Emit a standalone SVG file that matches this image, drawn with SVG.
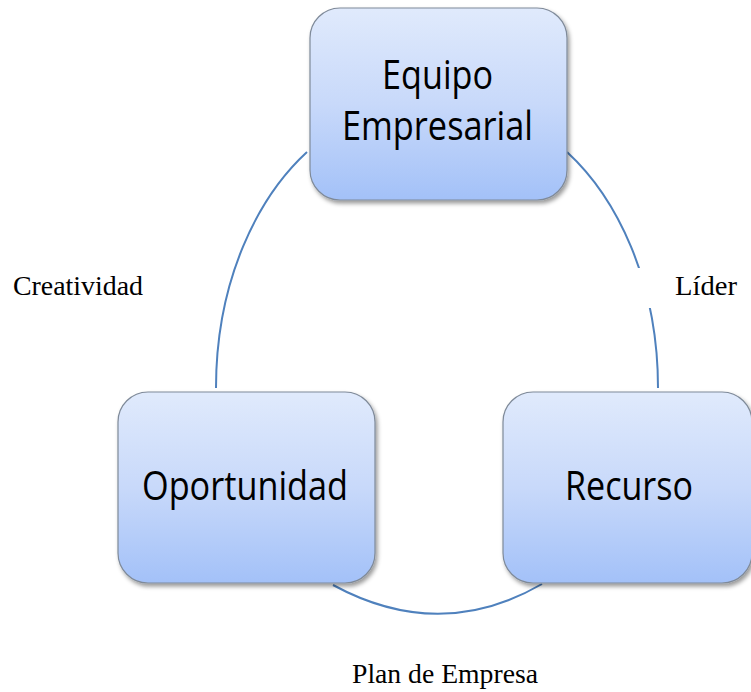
<svg xmlns="http://www.w3.org/2000/svg" width="751" height="692" viewBox="0 0 751 692">
  <defs>
    <linearGradient id="boxGrad" x1="0" y1="0" x2="0" y2="1">
      <stop offset="0" stop-color="#e0eafc"/>
      <stop offset="0.5" stop-color="#c8d9fa"/>
      <stop offset="1" stop-color="#a3c1f8"/>
    </linearGradient>
    <filter id="shadow" x="-10%" y="-10%" width="125%" height="125%">
      <feDropShadow dx="2" dy="3" stdDeviation="2" flood-color="#000" flood-opacity="0.4"/>
    </filter>
  </defs>
  <style>
    .box { fill: url(#boxGrad); stroke: #7f8a99; stroke-width: 1.2; filter: url(#shadow); }
    .btxt { font-family: "Open Sans", "Noto Sans", sans-serif; font-size: 40px; fill: #000; }
    .lbl { font-family: "Liberation Serif", "Times New Roman", serif; font-size: 27.5px; fill: #000; }
    .arc { fill: none; stroke: #4f81bd; stroke-width: 2; }
  </style>
  <rect width="751" height="692" fill="#ffffff"/>
  <g id="connectors">
    <path class="arc" d="M307,152 C258,197 216,280 216,388"/>
    <path class="arc" d="M567,152 C616,197 658,280 658,388"/>
    <path class="arc" d="M333,585 Q440,643 542,584"/>
  </g>
  <g id="label-creatividad">
    <text class="lbl" x="13" y="295" textLength="130" lengthAdjust="spacingAndGlyphs">Creatividad</text>
  </g>
  <g id="label-lider">
    <rect x="636" y="268" width="110" height="40" fill="#ffffff"/>
    <text class="lbl" x="675" y="295" textLength="62" lengthAdjust="spacingAndGlyphs">Líder</text>
  </g>
  <g id="label-plan">
    <text class="lbl" x="352" y="683" textLength="186" lengthAdjust="spacingAndGlyphs">Plan de Empresa</text>
  </g>
  <g id="node-equipo">
    <rect class="box" x="310" y="8" width="257" height="192" rx="30" ry="30"/>
    <text class="btxt" x="382" y="89" textLength="111" lengthAdjust="spacingAndGlyphs">Equipo</text>
    <text class="btxt" x="342" y="140" textLength="191" lengthAdjust="spacingAndGlyphs">Empresarial</text>
  </g>
  <g id="node-oportunidad">
    <rect class="box" x="118" y="392" width="257" height="191" rx="30" ry="30"/>
    <text class="btxt" x="142" y="500" textLength="206" lengthAdjust="spacingAndGlyphs">Oportunidad</text>
  </g>
  <g id="node-recurso">
    <rect class="box" x="503" y="392" width="249" height="191" rx="30" ry="30"/>
    <text class="btxt" x="565" y="500" textLength="128" lengthAdjust="spacingAndGlyphs">Recurso</text>
  </g>
</svg>
